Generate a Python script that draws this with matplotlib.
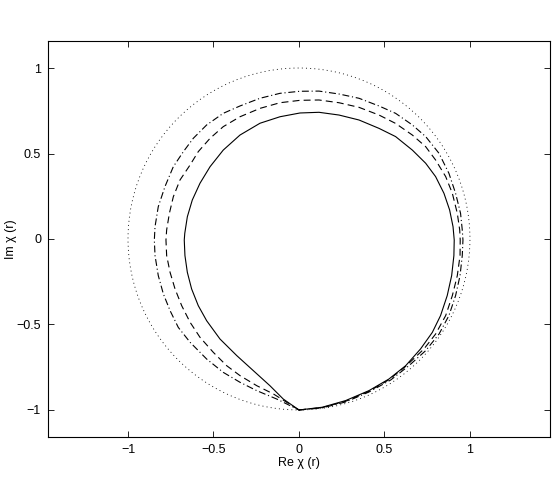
import matplotlib
matplotlib.use("Agg")
import matplotlib.pyplot as plt
from matplotlib.patches import Circle

# unit circle (dotted)
circle_center = (0.0, 0.0)
circle_radius = 1.0

# curves, going from (0,-1) round the right side, over the top,
# down the left side and back to (0,-1)
solid_x = [0.0, 0.136, 0.273, 0.409, 0.526, 0.624, 0.711, 0.780, 0.828, 0.867, 0.893, 0.906,
           0.908, 0.901, 0.881, 0.848, 0.799, 0.741, 0.663, 0.565, 0.468, 0.351, 0.234,
           0.117, 0.006, -0.111, -0.228, -0.345, -0.443, -0.520, -0.579, -0.624, -0.653,
           -0.668, -0.671, -0.667, -0.653, -0.628, -0.589, -0.540, -0.462, -0.364,
           -0.267, -0.170, -0.092, 0.0]
solid_y = [-1.0, -0.984, -0.945, -0.887, -0.819, -0.741, -0.643, -0.546, -0.448, -0.331, -0.214, -0.097,
           -0.006, 0.072, 0.170, 0.267, 0.365, 0.443, 0.520, 0.599, 0.647, 0.696, 0.725,
           0.741, 0.737, 0.715, 0.677, 0.608, 0.520, 0.423, 0.326, 0.228, 0.130,
           0.033, -0.006, -0.097, -0.195, -0.292, -0.390, -0.478, -0.585, -0.682,
           -0.770, -0.858, -0.936, -1.0]

dash_x = [0.0, 0.136, 0.273, 0.409, 0.526, 0.624, 0.731, 0.799, 0.858, 0.897, 0.926, 0.942,
          0.943, 0.940, 0.926, 0.897, 0.858, 0.799, 0.741, 0.663, 0.565, 0.468, 0.351,
          0.234, 0.117, 0.006, -0.111, -0.228, -0.345, -0.443, -0.520, -0.589, -0.637,
          -0.696, -0.735, -0.758, -0.774, -0.778, -0.774, -0.754, -0.725, -0.686,
          -0.637, -0.579, -0.501, -0.423, -0.345, -0.247, -0.150, -0.072, 0.0]
dash_y = [-1.0, -0.986, -0.949, -0.891, -0.823, -0.745, -0.643, -0.556, -0.448, -0.331, -0.214, -0.097,
          -0.006, 0.053, 0.150, 0.267, 0.365, 0.462, 0.540, 0.608, 0.676, 0.725, 0.770,
          0.797, 0.813, 0.811, 0.797, 0.764, 0.715, 0.657, 0.589, 0.511, 0.433,
          0.345, 0.247, 0.150, 0.053, -0.006, -0.097, -0.195, -0.292, -0.390,
          -0.487, -0.575, -0.663, -0.741, -0.799, -0.858, -0.906, -0.955, -1.0]

dd_x = [0.0, 0.136, 0.273, 0.409, 0.536, 0.643, 0.741, 0.819, 0.877, 0.916, 0.942, 0.955,
        0.959, 0.955, 0.945, 0.916, 0.877, 0.819, 0.741, 0.663, 0.565, 0.468, 0.351,
        0.234, 0.117, 0.006, -0.111, -0.228, -0.345, -0.443, -0.540, -0.618, -0.676,
        -0.735, -0.784, -0.823, -0.842, -0.846, -0.842, -0.823, -0.793, -0.754,
        -0.706, -0.637, -0.540, -0.443, -0.345, -0.247, -0.130, -0.033, 0.0]
dd_y = [-1.0, -0.988, -0.953, -0.895, -0.825, -0.741, -0.653, -0.556, -0.448, -0.331, -0.214, -0.097,
        -0.006, 0.053, 0.150, 0.267, 0.384, 0.501, 0.599, 0.667, 0.735, 0.778, 0.823,
        0.848, 0.865, 0.864, 0.852, 0.823, 0.778, 0.735, 0.667, 0.589, 0.511,
        0.423, 0.306, 0.189, 0.072, -0.006, -0.097, -0.214, -0.322, -0.419,
        -0.517, -0.604, -0.702, -0.780, -0.838, -0.887, -0.936, -0.984, -1.0]

xticks = [-1, -0.5, 0, 0.5, 1]
yticks = [-1, -0.5, 0, 0.5, 1]
xtick_labels = ['\u22121', '\u22120.5', '0', '0.5', '1']
ytick_labels = ['\u22121', '\u22120.5', '0', '0.5', '1']

plt.rcParams['font.family'] = ['Liberation Sans', 'DejaVu Sans']
plt.rcParams['lines.scale_dashes'] = False

fig = plt.figure(figsize=(5.6, 4.91), dpi=100)
ax = fig.add_axes([0.0857, 0.110, 0.8964, 0.8065])

ax.add_patch(Circle(circle_center, circle_radius, fill=False, color='black',
                    lw=0.6, linestyle=(0, (0.7, 2.3))))
ax.plot(solid_x, solid_y, color='black', lw=0.8)
ax.plot(dash_x, dash_y, color='black', lw=0.8, linestyle=(0, (5, 3)))
ax.plot(dd_x, dd_y, color='black', lw=0.8, linestyle=(0, (5, 2, 0.8, 2)))

ax.set_xlim(-1.468, 1.468)
ax.set_ylim(-1.158, 1.158)
ax.set_xticks(xticks)
ax.set_xticklabels(xtick_labels)
ax.set_yticks(yticks)
ax.set_yticklabels(ytick_labels)
ax.tick_params(direction='in', top=True, right=True, length=4, width=0.6,
               labelsize=9, pad=5)
for s in ax.spines.values():
    s.set_linewidth(0.8)

ax.set_xlabel('Re \u03c7 (r)', fontsize=9, labelpad=1)
ax.set_ylabel('Im \u03c7 (r)', fontsize=9)
ax.yaxis.set_label_coords(-0.062, 0.5)

fig.savefig('out.png', dpi=100)
